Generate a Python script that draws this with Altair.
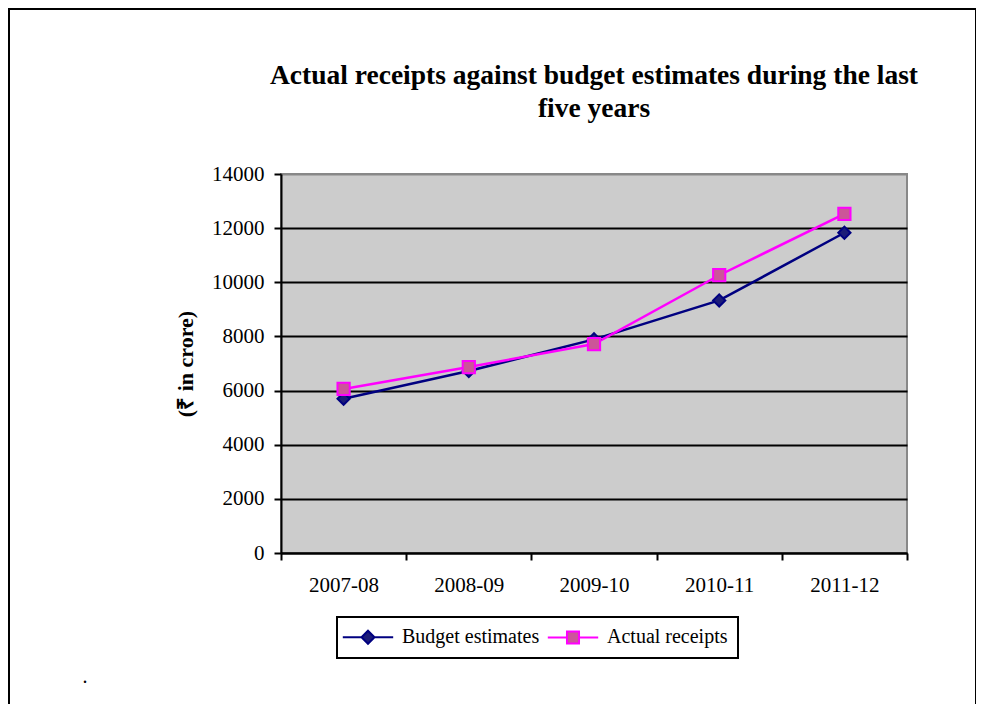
import altair as alt
import pandas as pd

years = ["2007-08", "2008-09", "2009-10", "2010-11", "2011-12"]
budget = [5700, 6720, 7890, 9330, 11830]
actual = [6060, 6870, 7720, 10260, 12530]
series_names = ["Budget estimates", "Actual receipts"]
y_ticks = [0, 2000, 4000, 6000, 8000, 10000, 12000, 14000]
title_lines = ["Actual receipts against budget estimates during the last", "five years"]
y_title = "(₹ in crore)"

rows = []
for yr, b, a in zip(years, budget, actual):
    rows.append({"year": yr, "series": series_names[0], "value": b})
    rows.append({"year": yr, "series": series_names[1], "value": a})
df = pd.DataFrame(rows)

FONT = "Liberation Serif"
stroke_colors = ["#000080", "#FF00FF"]
fill_colors = ["#1C1C78", "#CC5599"]

diamond_path = "M-3.6,0H-0.9M0.9,0H3.6M0,-0.93L0.93,0L0,0.93L-0.93,0Z"
square_path = "M-3.6,0H-0.86M0.86,0H3.6M-0.86,-0.86H0.86V0.86H-0.86Z"

leg = alt.Legend(
    title=None,
    orient="none",
    legendX=56,
    legendY=443,
    direction="horizontal",
    columns=2,
    strokeColor="black",
    fillColor="white",
    padding=10,
    labelFont=FONT,
    labelFontSize=20,
    labelColor="black",
    symbolSize=196,
    symbolStrokeWidth=2,
    symbolOpacity=1,
    symbolOffset=11,
    labelOffset=24,
    columnPadding=3,
)

x_enc = alt.X(
    "year:N",
    sort=years,
    scale=alt.Scale(paddingInner=0, paddingOuter=0),
    axis=alt.Axis(
        title=None,
        labelAngle=0,
        tickBand="extent",
        labelFont=FONT,
        labelFontSize=21,
        labelColor="black",
        labelPadding=14,
        domainColor="black",
        domainWidth=2,
        tickColor="black",
        tickWidth=2,
        tickSize=7,
        grid=False,
    ),
)
y_enc = alt.Y(
    "value:Q",
    scale=alt.Scale(domain=[0, 14000], nice=False),
    axis=alt.Axis(
        values=y_ticks,
        format="d",
        title=y_title,
        titleFont=FONT,
        titleFontSize=22,
        titleFontWeight="bold",
        titleColor="black",
        titleX=-96,
        titleY=189.5,
        titleAlign="center",
        titleBaseline="middle",
        labelFont=FONT,
        labelFontSize=21,
        labelColor="black",
        labelPadding=10,
        domainColor="black",
        domainWidth=2,
        tickColor="black",
        tickWidth=2,
        tickSize=7,
        grid=True,
        gridColor={"condition": {"test": "datum.value === 14000", "value": "#888888"}, "value": "black"},
        gridWidth=2,
    ),
)

stroke_scale = alt.Scale(domain=series_names, range=stroke_colors)
fill_scale = alt.Scale(domain=series_names, range=fill_colors)
legend_shape_scale = alt.Scale(domain=series_names, range=[diamond_path, square_path])


def series_layers(idx, shape):
    base = alt.Chart(df).transform_filter(alt.datum.series == series_names[idx])
    line = base.mark_line(strokeWidth=2.5, stroke=stroke_colors[idx]).encode(x=x_enc, y=y_enc)
    pts = base.mark_point(
        shape=shape, filled=True, size=150, strokeWidth=2, opacity=1,
        fill=fill_colors[idx], stroke=stroke_colors[idx],
    ).encode(x=x_enc, y=y_enc)
    return line, pts


line_b, pts_b = series_layers(0, "diamond")
line_a, pts_a = series_layers(1, "square")

# empty layer that only feeds the legend (line + marker glyphs)
legend_layer = alt.Chart(df).transform_filter("false").mark_point(
    filled=True, strokeWidth=2, opacity=1
).encode(
    x=x_enc,
    y=y_enc,
    stroke=alt.Stroke("series:N", scale=stroke_scale, legend=leg),
    fill=alt.Fill("series:N", scale=fill_scale, legend=leg),
    shape=alt.Shape("series:N", scale=legend_shape_scale, legend=leg),
)

frame = alt.Chart(pd.DataFrame({"a": [0]})).mark_rect(filled=False, stroke="black", strokeWidth=2).encode(
    x=alt.value(-272), x2=alt.value(695), y=alt.value(-165), y2=alt.value(560)
)

dot = alt.Chart(pd.DataFrame({"t": ["."]})).mark_text(fontSize=20, font=FONT, color="black").encode(
    text="t:N", x=alt.value(-196), y=alt.value(503)
)

chart = alt.layer(frame, dot, line_b, line_a, pts_b, pts_a, legend_layer).properties(
    width=626,
    height=379,
    autosize=alt.AutoSizeParams(type="none"),
    padding={"left": 273, "top": 166, "right": 69, "bottom": 151},
    title=alt.TitleParams(
        title_lines,
        font=FONT,
        fontSize=27.5,
        fontWeight="bold",
        color="black",
        anchor="middle",
        offset=52,
        dy=166,
        lineHeight=33,
    ),
).configure_view(fill="#CCCCCC", stroke="#888888", strokeWidth=2).configure_legend(strokeWidth=2)

chart.save("out.html", embed_options={"renderer": "svg", "actions": False})
